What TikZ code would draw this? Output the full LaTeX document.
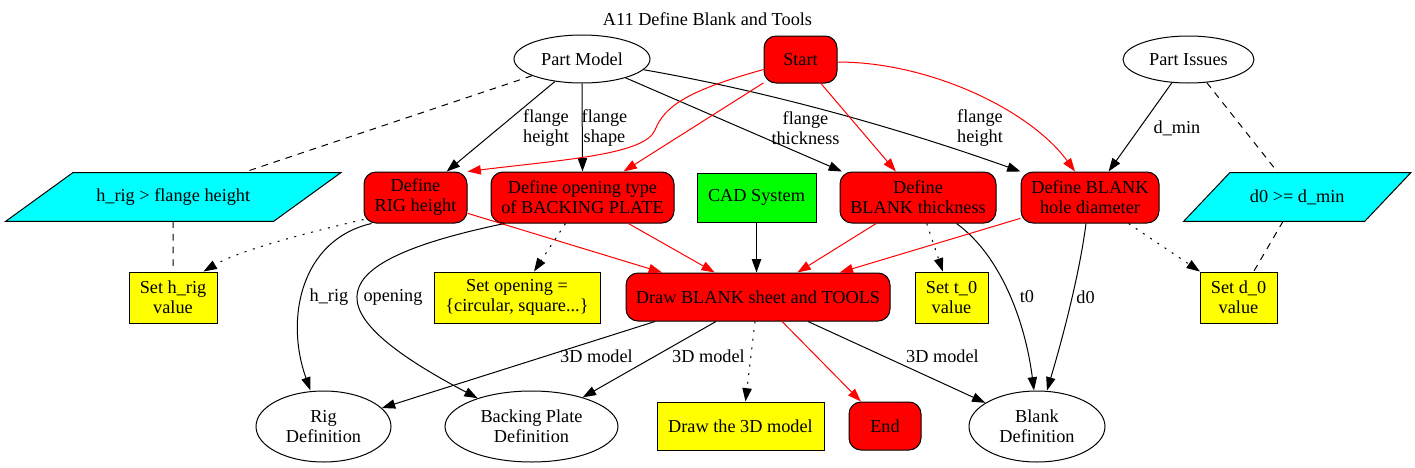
\documentclass[tikz,border=0pt]{standalone}
\usepackage{fontspec}
\setmainfont{Liberation Serif}
\usetikzlibrary{shapes.geometric,arrows.meta,calc,backgrounds}
\definecolor{gvred}{RGB}{255,0,0}
\definecolor{gvcyan}{RGB}{0,255,255}
\definecolor{gvgreen}{RGB}{0,255,0}
\definecolor{gvyellow}{RGB}{255,255,0}
\begin{document}
\begin{tikzpicture}[x=0.75pt,y=-0.75pt,
  font=\fontsize{13.7pt}{15pt}\selectfont,
  every node/.style={align=center, inner sep=0pt},
  ell/.style={ellipse, draw, line width=0.75pt},
  rbox/.style={rectangle, rounded corners=9pt, draw, fill=gvred, line width=0.75pt},
  ybox/.style={rectangle, draw, fill=gvyellow, line width=0.75pt},
  gbox/.style={rectangle, draw, fill=gvgreen, line width=0.75pt},
  parafill/.style={draw, fill=gvcyan, line width=0.75pt},
  conn/.style={-{Triangle[length=10pt,width=7pt]}, line width=0.75pt},
  rconn/.style={conn, gvred},
  lnk/.style={line width=0.75pt, dash pattern=on 5pt off 4.5pt},
  dotc/.style={conn, dash pattern=on 1.5pt off 5pt}]
\useasboundingbox (0,0) rectangle (1415,468);

% title
\node (title) at (707.5,19) {A11 Define Blank and Tools};

% top row
\node[ell, minimum width=102pt, minimum height=36pt] (pm) at (582,59) {Part Model};
\node[rbox, minimum width=54.75pt, minimum height=35.25pt] (start) at (800.5,59.5) {Start};
\node[ell, minimum width=98.25pt, minimum height=35.25pt] (pi) at (1188.5,59.5) {Part Issues};

% second row
\node[minimum width=200.6pt, minimum height=36pt] (hrig) at (173.25,197) {h\_rig > flange height};
\node[rbox, minimum width=77.25pt, minimum height=38.25pt] (rig) at (415.5,197.5) {Define\\RIG height};
\node[rbox, minimum width=137.25pt, minimum height=38.25pt] (open) at (582.5,197.5) {Define opening type\\of BACKING PLATE};
\node[gbox, minimum width=89.25pt, minimum height=36.75pt] (cad) at (756.5,197.5) {CAD System};
\node[rbox, minimum width=117pt, minimum height=38.25pt] (thick) at (918,197.5) {Define\\BLANK thickness};
\node[rbox, minimum width=103.5pt, minimum height=38.25pt] (hole) at (1090,197.5) {Define BLANK\\hole diameter};
\node[minimum width=135.4pt, minimum height=36pt] (d0c) at (1297.25,197) {d0 >= d\_min};

% third row
\node[ybox, minimum width=66pt, minimum height=38.25pt] (seth) at (173,297.5) {Set h\_rig\\value};
\node[ybox, minimum width=124.5pt, minimum height=38.25pt] (setop) at (517,297.5) {Set opening =\\\{circular, square...\}};
\node[rbox, minimum width=198pt, minimum height=36pt] (drw) at (758,297) {Draw BLANK sheet and TOOLS};
\node[ybox, minimum width=54.75pt, minimum height=38.25pt] (sett) at (951.5,297.5) {Set t\_0\\value};
\node[ybox, minimum width=57.75pt, minimum height=38.25pt] (setd) at (1238.5,297.5) {Set d\_0\\value};

% bottom row
\node[ell, minimum width=101.25pt, minimum height=53.25pt] (rigdef) at (323.5,426.5) {Rig\\Definition};
\node[ell, minimum width=129.75pt, minimum height=53.25pt] (bpdef) at (531.5,426.5) {Backing Plate\\Definition};
\node[ybox, minimum width=125.25pt, minimum height=36pt] (draw3d) at (740.5,426) {Draw the 3D model};
\node[rbox, minimum width=54pt, minimum height=36pt] (endn) at (885,426) {End};
\node[ell, minimum width=102pt, minimum height=53.25pt] (blankdef) at (1037,426.5) {Blank\\Definition};

% parallelogram outlines
\begin{scope}[on background layer]
\path[parafill] ($(hrig.north west)+(33.5,0)$) -- ($(hrig.north east)+(33.5,0)$) -- ($(hrig.south east)+(-33.5,0)$) -- ($(hrig.south west)+(-33.5,0)$) -- cycle;
\path[parafill] ($(d0c.north west)+(23,0)$) -- ($(d0c.north east)+(23,0)$) -- ($(d0c.south east)+(-23,0)$) -- ($(d0c.south west)+(-23,0)$) -- cycle;
\end{scope}

% edges from Part Model
\draw[conn] (pm) -- (rig);
\draw[conn] (pm.south) -- (open.north);
\draw[conn] (pm) -- ($(thick.north)+(-76,0)$);
\draw[conn] (pm) .. controls (760,90) and (890,125) .. (hole.north west);
\draw[lnk] (pm) -- ($(hrig.north)+(69.5,0)$);

% edges from Start
\draw[rconn] ($(start.west)+(0,10)$) .. controls (690,90) and (665,105) .. (655,130) .. controls (645,155) and (560,160) .. (rig.north east);
\draw[rconn] (start) -- (open);
\draw[rconn] (start) -- (thick);
\draw[rconn] ($(start.east)+(0,2.5)$) .. controls (930,62) and (1030,110) .. ($(hole.north)+(-15,0)$);

% edges from Part Issues
\draw[conn] (pi) -- (hole);
\draw[lnk] (pi) -- (d0c);

% second row edges
\draw[lnk] (hrig.south) -- (seth.north);
\draw[dotc] ($(rig.south west)+(0,-4)$) .. controls (310,232) and (240,250) .. ($(seth.north east)+(-14,0)$);
\draw[conn] ($(rig.south west)+(8,0)$) .. controls (300,240) and (285,320) .. ($(rigdef.north)+(-13,0)$);
\draw[rconn] (rig) -- ($(drw.north)+(-96,0)$);
\draw[conn] ($(open.south west)+(14,0)$) .. controls (320,262) and (310,310) .. (bpdef);
\draw[dotc] (open) -- (setop);
\draw[rconn] (open) -- (drw);
\draw[conn] (cad) -- (cad |- drw.north);
\draw[rconn] (thick) -- (drw);
\draw[dotc] (thick) -- (sett);
\draw[conn] ($(thick.south east)+(-40,0)$) .. controls (1000,255) and (1025,320) .. ($(blankdef.north)+(-3,0)$);
\draw[rconn] (hole) -- (drw);
\draw[conn] ($(hole.south)+(-4,0)$) .. controls (1080,270) and (1065,330) .. ($(blankdef.north)+(10,0)$);
\draw[dotc] (hole) -- (setd);
\draw[lnk] (d0c) -- (setd);

% edges from Draw BLANK
\draw[conn] ($(drw.south)+(-103,0)$) -- (rigdef);
\draw[conn] ($(drw.south)+(-42,0)$) -- (bpdef);
\draw[dotc] ($(drw.south)+(-3,0)$) -- ($(draw3d.north)+(5,0)$);
\draw[rconn] (drw) -- (endn);
\draw[conn] ($(drw.south)+(50,0)$) -- (blankdef);

% edge labels
\node (l1) at (546,128) {flange\\height};
\node (l2) at (604.5,128) {flange\\shape};
\node (l3) at (805.5,128) {flange\\thickness};
\node (l4) at (980,128) {flange\\height};
\node (l5) at (1177,128) {d\_min};
\node (l6) at (329,297) {h\_rig};
\node (l7) at (393,297) {opening};
\node (l8) at (1027,297) {t0};
\node (l9) at (1085.5,297) {d0};
\node (l10) at (596.5,356) {3D model};
\node (l11) at (708.5,356) {3D model};
\node (l12) at (942.5,356) {3D model};
\end{tikzpicture}
\end{document}
